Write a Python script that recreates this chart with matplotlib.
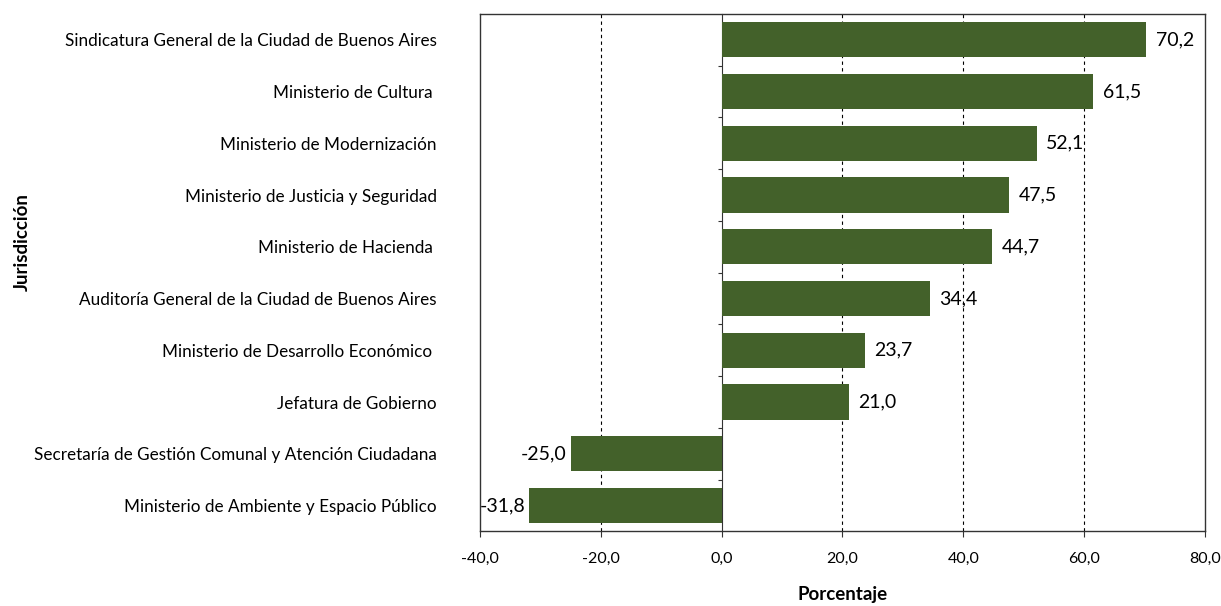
import matplotlib.pyplot as plt
from matplotlib.ticker import FuncFormatter

plt.rcParams['font.family'] = ['Lato', 'DejaVu Sans']

# Jurisdicciones (de arriba hacia abajo) y variación porcentual
jurisdicciones = [
    "Sindicatura General de la Ciudad de Buenos Aires",
    "Ministerio de Cultura ",
    "Ministerio de Modernización",
    "Ministerio de Justicia y Seguridad",
    "Ministerio de Hacienda ",
    "Auditoría General de la Ciudad de Buenos Aires",
    "Ministerio de Desarrollo Económico ",
    "Jefatura de Gobierno",
    "Secretaría de Gestión Comunal y Atención Ciudadana",
    "Ministerio de Ambiente y Espacio Público",
]
porcentajes = [70.2, 61.5, 52.1, 47.5, 44.7, 34.4, 23.7, 21.0, -25.0, -31.8]

bar_color = '#43612a'

fig = plt.figure(figsize=(12.21, 6.06), dpi=100)
ax = fig.add_axes([0.393, 0.123, 0.594, 0.854])

pos = list(range(len(jurisdicciones)))
ax.barh(pos, porcentajes, height=0.68, color=bar_color, zorder=3)

ax.set_xlim(-40, 80)
ax.set_ylim(len(jurisdicciones) - 0.5, -0.5)
ax.set_xticks([-40, -20, 0, 20, 40, 60, 80])
ax.xaxis.set_major_formatter(FuncFormatter(lambda v, p: f"{v:.1f}".replace('.', ',')))
ax.tick_params(axis='x', length=4, labelsize=11.5, color='#333333', pad=11)

ax.set_yticks(pos)
ax.set_yticklabels(jurisdicciones, fontsize=12.3)
ax.tick_params(axis='y', length=0, pad=31)

for x in [-20, 20, 40, 60]:
    ax.axvline(x, color='black', lw=0.8, ls=(0, (3, 3)), zorder=1)

for s in ax.spines.values():
    s.set_color('#333333')
    s.set_linewidth(1.0)

# eje vertical en 0 con marcas entre categorías
sec = ax.secondary_yaxis(1 / 3)
sec.set_yticks([p + 0.5 for p in pos[:-1]])
sec.set_yticklabels([])
sec.tick_params(axis='y', length=3, color='#333333')
sec.spines['left'].set_color('#333333')

for p, v in zip(pos, porcentajes):
    txt = f"{v:.1f}".replace('.', ',')
    if v >= 0:
        ax.text(v + 1.6, p, txt, va='center', ha='left', fontsize=14, zorder=4)
    else:
        ax.text(v - 0.6, p, txt, va='center', ha='right', fontsize=14, zorder=4)

ax.set_xlabel("Porcentaje", fontsize=13.5, fontweight='bold', labelpad=14)
fig.text(0.018, 0.6, "Jurisdicción", rotation=90, fontsize=13.5, fontweight='bold',
         va='center', ha='center')

fig.savefig("out.png", dpi=100)
